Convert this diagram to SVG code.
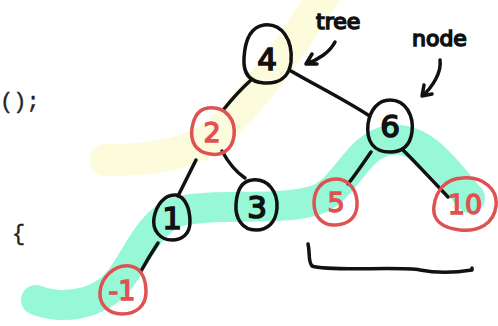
<svg xmlns="http://www.w3.org/2000/svg" width="498" height="326" viewBox="0 0 498 326">
<style>
.band{fill:none;stroke-linecap:round;stroke-linejoin:round}
.edge{fill:none;stroke:#111;stroke-width:3.5;stroke-linecap:round;stroke-linejoin:round}
.nb{fill:none;stroke:#111;stroke-width:3.5}
.nr{fill:none;stroke:#e05252;stroke-width:3.5}
.tb{font-family:"DejaVu Sans",sans-serif;font-size:31px;fill:#111;stroke:#111;stroke-width:1.6;text-anchor:middle}
.tr{font-family:"DejaVu Sans",sans-serif;font-size:27px;fill:#e05252;stroke:#e05252;stroke-width:1.4;text-anchor:middle}
.code{font-family:"Liberation Mono",monospace;font-size:22px;fill:#222;stroke:#222;stroke-width:0.4}
.hand{font-family:"DejaVu Sans",sans-serif;font-size:22px;fill:#111;stroke:#111;stroke-width:1.6}
</style>
<rect width="498" height="326" fill="#fff"/>
<g id="code">
<text class="code" x="0" y="108">();</text>
<text class="code" x="12" y="240">{</text>
</g>
<g id="highlights">
<path class="band" stroke="#fcfcdc" stroke-width="32" d="M105,160 C150,160 192,155 217,133 C250,103 292,48 328,-12"/>
<path class="band" stroke="#97f8d7" stroke-width="30" d="M36,300 C62,310 96,305 116,284 C136,262 146,224 176,212 C212,202 282,212 316,200 C346,190 356,145 390,140 C424,136 446,170 470,198"/>
</g>
<g id="connectors">
<path class="edge" d="M251,80 C240,90 232,99 224,109"/>
<path class="edge" d="M291,71 C315,85 345,100 368,115"/>
<path class="edge" d="M196,160 C190,172 184,184 178,196"/>
<path class="edge" d="M222,151 C228,162 236,172 245,178"/>
<path class="edge" d="M158,243 C152,252 146,262 141,271"/>
<path class="edge" d="M371,152 C364,162 356,174 348,184"/>
<path class="edge" d="M403,150 C418,165 434,182 448,197"/>
</g>
<g id="node-4"><path class="nb" d="M264,25 C282,23 293,40 291,62 C289,78 278,84 264,83 C250,82 243,74 244,58 C245,40 250,27 264,25 Z"/><text class="tb" x="267" y="70">4</text></g>
<g id="node-2"><path class="nr" d="M208,108 C226,106 236,120 234,136 C232,150 222,156 210,154 C196,152 190,142 192,128 C194,116 200,109 208,108 Z"/><text class="tr" x="212" y="142">2</text></g>
<g id="node-6"><path class="nb" d="M390,100 C406,100 414,116 412,132 C410,146 402,152 390,152 C374,152 366,142 368,124 C370,110 378,100 390,100 Z"/><text class="tb" x="390" y="137">6</text></g>
<g id="node-1"><path class="nb" d="M176,195 C186,197 190,210 190,222 C190,234 182,240 172,240 C160,240 152,230 154,218 C156,206 164,194 176,195 Z"/><text class="tb" x="172" y="229">1</text></g>
<g id="node-3"><path class="nb" d="M252,180 C268,178 278,192 277,208 C276,222 268,230 256,230 C242,230 235,218 236,204 C237,190 242,181 252,180 Z"/><text class="tb" x="257" y="218">3</text></g>
<g id="node-5"><path class="nr" d="M336,179 C350,179 358,192 357,206 C356,218 348,224 336,225 C322,226 314,216 314,203 C314,190 322,179 336,179 Z"/><text class="tr" x="336" y="212">5</text></g>
<g id="node-10"><path class="nr" d="M462,178 C484,176 498,190 496,206 C494,224 478,232 460,230 C442,228 432,220 434,206 C436,190 446,179 462,178 Z"/><text class="tr" x="465" y="214">10</text></g>
<g id="node--1"><path class="nr" d="M130,266 C142,268 146,280 146,292 C146,306 136,314 122,314 C108,314 99,304 100,292 C101,278 114,264 130,266 Z"/><text class="tr" x="122" y="300">-1</text></g>
<g id="labels">
<text class="hand" x="316" y="29">tree</text>
<path class="edge" d="M335,42 C330,52 318,60 306,64 M306,64 L312,54 M306,64 L317,64"/>
<text class="hand" x="412" y="46">node</text>
<path class="edge" d="M440,60 C442,72 432,88 422,96 M422,96 L424,85 M422,96 L432,94"/>
</g>
<g id="bracket">
<path class="edge" d="M308,244 C310,252 308,262 312,266 C330,272 400,266 420,270 C440,274 460,272 472,270 L472,268"/>
</g>
</svg>
